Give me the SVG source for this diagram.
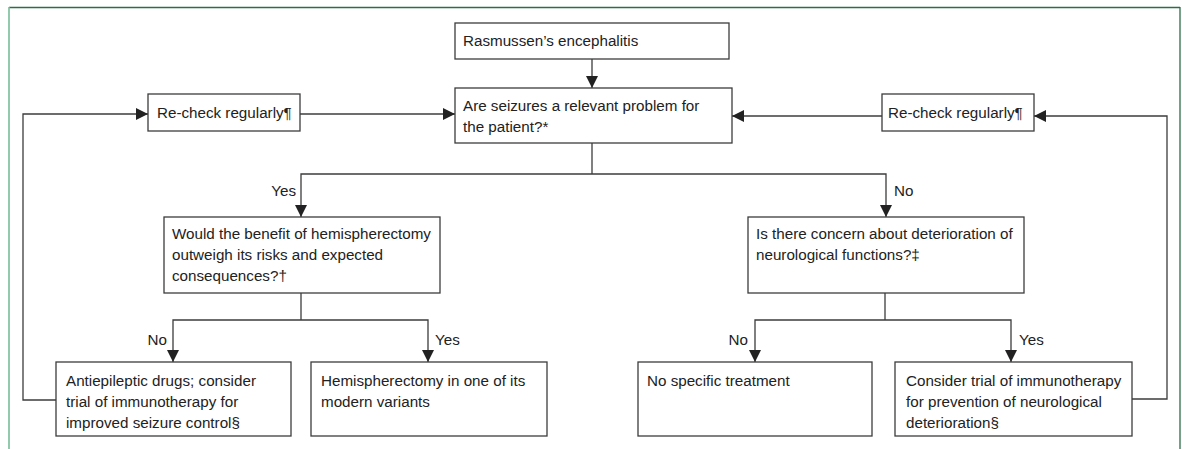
<svg xmlns="http://www.w3.org/2000/svg" width="1182" height="449" viewBox="0 0 1182 449">
  <defs>
    <marker id="arr" viewBox="0 0 10 10" refX="10" refY="5" markerWidth="12" markerHeight="12" markerUnits="userSpaceOnUse" orient="auto">
      <path d="M0,0 L10,5 L0,10 z" fill="#222"/>
    </marker>
    <style>
      .box { fill: #ffffff; stroke: #3c3c3c; stroke-width: 1.3; }
      .t { font-family: "Liberation Sans", Arial, sans-serif; font-size: 15.2px; fill: #222222; }
      .lbl { font-family: "Liberation Sans", Arial, sans-serif; font-size: 15.2px; fill: #222222; }
      .c { fill: none; stroke: #3c3c3c; stroke-width: 1.3; }
      .ca { fill: none; stroke: #3c3c3c; stroke-width: 1.3; marker-end: url(#arr); }
    </style>
  </defs>
  <rect x="0" y="0" width="1182" height="449" fill="#ffffff"/>
  <g id="frame">
    <line x1="9" y1="7.5" x2="1180" y2="7.5" stroke="#2b6e49" stroke-width="1.3"/>
    <line x1="9" y1="7" x2="9" y2="449" stroke="#78bc98" stroke-width="1.6"/>
    <line x1="1180" y1="7" x2="1180" y2="449" stroke="#2b6e49" stroke-width="1.3"/>
  </g>

  <g id="connectors">
    <path class="ca" d="M592,59 V88"/>
    <path class="ca" d="M300,114 H455"/>
    <path class="ca" d="M882,116 H732"/>
    <path class="ca" d="M56,400 H23 V114 H148"/>
    <path class="ca" d="M1132,399 H1167 V116 H1034"/>
    <path class="c" d="M592,143 V174"/>
    <path class="ca" d="M592,174 H301 V217"/>
    <path class="ca" d="M592,174 H886 V217"/>
    <path class="c" d="M301,293 V320"/>
    <path class="ca" d="M301,320 H173 V362"/>
    <path class="ca" d="M301,320 H428 V362"/>
    <path class="c" d="M885,293 V320"/>
    <path class="ca" d="M885,320 H755 V362"/>
    <path class="ca" d="M885,320 H1011 V362"/>
    <g id="labels">
      <text class="lbl" x="296" y="196" text-anchor="end">Yes</text>
      <text class="lbl" x="894" y="196">No</text>
      <text class="lbl" x="167" y="345" text-anchor="end">No</text>
      <text class="lbl" x="435" y="345">Yes</text>
      <text class="lbl" x="748" y="345" text-anchor="end">No</text>
      <text class="lbl" x="1019" y="345">Yes</text>
    </g>
  </g>

  <g id="n-rasmussen">
    <rect class="box" x="455" y="23" width="274" height="36"/>
    <text class="t" x="463" y="46">Rasmussen’s encephalitis</text>
  </g>
  <g id="n-seizures">
    <rect class="box" x="455" y="88" width="277" height="55"/>
    <text class="t" x="463" y="111">Are seizures a relevant problem for</text>
    <text class="t" x="463" y="132">the patient?*</text>
  </g>
  <g id="n-recheck-left">
    <rect class="box" x="148" y="94" width="152" height="37"/>
    <text class="t" x="157" y="118">Re-check regularly¶</text>
  </g>
  <g id="n-recheck-right">
    <rect class="box" x="882" y="94" width="152" height="37"/>
    <text class="t" x="888" y="118">Re-check regularly¶</text>
  </g>
  <g id="n-hemi-question">
    <rect class="box" x="164" y="217" width="276" height="76"/>
    <text class="t" x="172" y="239">Would the benefit of hemispherectomy</text>
    <text class="t" x="172" y="260">outweigh its risks and expected</text>
    <text class="t" x="172" y="281">consequences?†</text>
  </g>
  <g id="n-neuro-question">
    <rect class="box" x="748" y="217" width="276" height="76"/>
    <text class="t" x="756" y="239">Is there concern about deterioration of</text>
    <text class="t" x="756" y="260">neurological functions?‡</text>
  </g>
  <g id="n-antiepileptic">
    <rect class="box" x="56" y="362" width="235" height="74"/>
    <text class="t" x="66" y="386">Antiepileptic drugs; consider</text>
    <text class="t" x="66" y="407">trial of immunotherapy for</text>
    <text class="t" x="66" y="428">improved seizure control§</text>
  </g>
  <g id="n-hemispherectomy">
    <rect class="box" x="311" y="362" width="236" height="74"/>
    <text class="t" x="321" y="386">Hemispherectomy in one of its</text>
    <text class="t" x="321" y="407">modern variants</text>
  </g>
  <g id="n-no-treatment">
    <rect class="box" x="638" y="362" width="234" height="74"/>
    <text class="t" x="647" y="386">No specific treatment</text>
  </g>
  <g id="n-immunotherapy">
    <rect class="box" x="895" y="362" width="237" height="74"/>
    <text class="t" x="906" y="386">Consider trial of immunotherapy</text>
    <text class="t" x="906" y="407">for prevention of neurological</text>
    <text class="t" x="906" y="428">deterioration§</text>
  </g>
</svg>
